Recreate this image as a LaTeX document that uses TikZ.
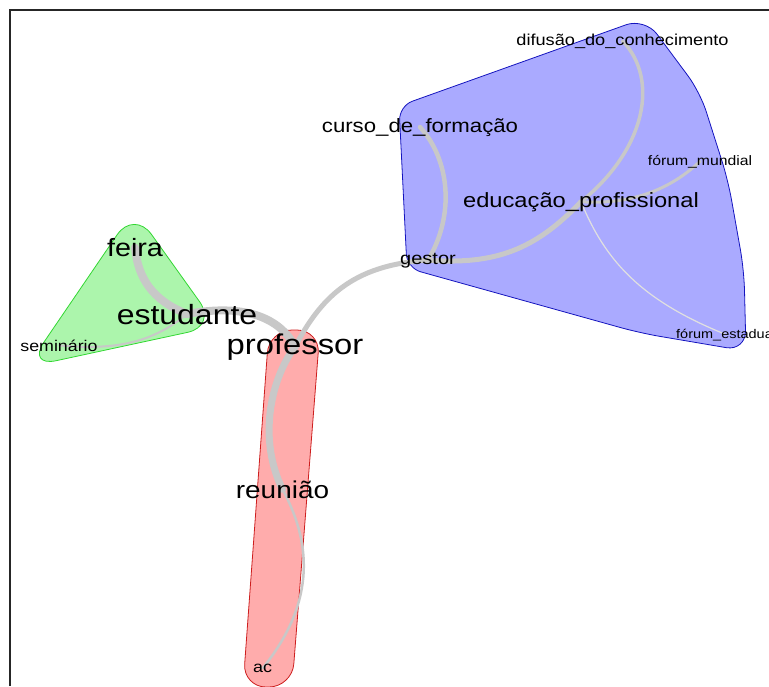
\documentclass[tikz,border=0pt]{standalone}
\usepackage{fontspec}
\setmainfont{Liberation Sans}[FakeStretch=1.15]
\usetikzlibrary{backgrounds}

\definecolor{bluefill}{RGB}{170,170,255}
\definecolor{blueline}{RGB}{20,20,190}
\definecolor{redfill}{RGB}{255,172,172}
\definecolor{redline}{RGB}{205,30,30}
\definecolor{greenfill}{RGB}{172,245,172}
\definecolor{greenline}{RGB}{50,215,50}
\definecolor{linkgray}{RGB}{200,200,200}

\begin{document}
\begin{tikzpicture}[
    x=1pt, y=-1pt,
    word/.style={inner sep=0pt, anchor=base, text=black, font=\fontsize{#1}{#1}\selectfont},
    link/.style={draw=linkgray, line width=#1, line cap=round},
    bluegroup/.style={fill=bluefill, draw=blueline, line width=0.8pt, rounded corners=20pt},
    redgroup/.style={fill=redfill, draw=redline, line width=0.8pt, rounded corners=23pt},
    greengroup/.style={fill=greenfill, draw=greenline, line width=0.8pt, rounded corners=30pt}
]
    \useasboundingbox (0,0) rectangle (769,686);
    \draw[line width=2pt, black!85] (10,686) -- (10,10) -- (769,10);

    \node[word=28.5] (professor) at (295,354) {professor};
    \node[word=27.8] (estudante) at (187,324) {estudante};
    \node[word=25] (feira) at (135,256.5) {feira};
    \node[word=24.3] (reuniao) at (282.5,498) {reunião};
    \node[word=15.6] (ac) at (262.5,672.5) {ac};
    \node[word=15.5] (seminario) at (59,351) {seminário};
    \node[word=17.4] (gestor) at (428,264) {gestor};
    \node[word=19.3] (curso) at (420,132) {curso\_de\_formação};
    \node[word=20.6] (educacao) at (581,207) {educação\_profissional};
    \node[word=13.7] (forummundial) at (700,165) {fórum\_mundial};
    \node[word=15.8] (difusao) at (622.5,45) {difusão\_do\_conhecimento};
    \node[word=12.6, anchor=base west] (forumestadual) at (676,338) {fórum\_estadual};

    \begin{scope}[on background layer]
        \filldraw[bluegroup] (399,106) -- (645,18) -- (700,92) -- (728,180) -- (744,270) -- (746,351) -- (640,333) [rounded corners=14pt] -- (407,268) -- cycle;
        \filldraw[redgroup] (269,330) -- (320,330) -- (292,687) -- (243,687) -- cycle;
        \filldraw[greengroup] (134,210) -- (217,326) -- (27,367) -- cycle;

        \draw[link=8pt] (feira.center) .. controls (138,278) and (152,300) .. (estudante.center);
        \draw[link=8pt] (estudante.center) .. controls (245,303) and (280,318) .. (professor.center);
        \draw[link=7pt] (professor.center) .. controls (270,380) and (258,440) .. (reuniao.center);
        \draw[link=2.5pt] (reuniao.center) .. controls (310,540) and (318,600) .. (ac.center);
        \draw[link=2pt] (estudante.center) .. controls (150,345) and (110,350) .. (seminario.center);
        \draw[link=5pt] (professor.center) .. controls (320,300) and (350,265) .. (gestor.center);
        \draw[link=4.5pt] (gestor.center) .. controls (455,215) and (450,160) .. (curso.center);
        \draw[link=5pt] (gestor.center) .. controls (495,265) and (535,250) .. (educacao.center);
        \draw[link=3.5pt] (educacao.center) .. controls (645,150) and (660,80) .. (difusao.center);
        \draw[link=3pt] (educacao.center) .. controls (630,205) and (670,190) .. (forummundial.center);
        \draw[link=1.2pt, draw=black!12] (educacao.center) .. controls (605,260) and (640,300) .. (forumestadual.center);
    \end{scope}
\end{tikzpicture}
\end{document}
